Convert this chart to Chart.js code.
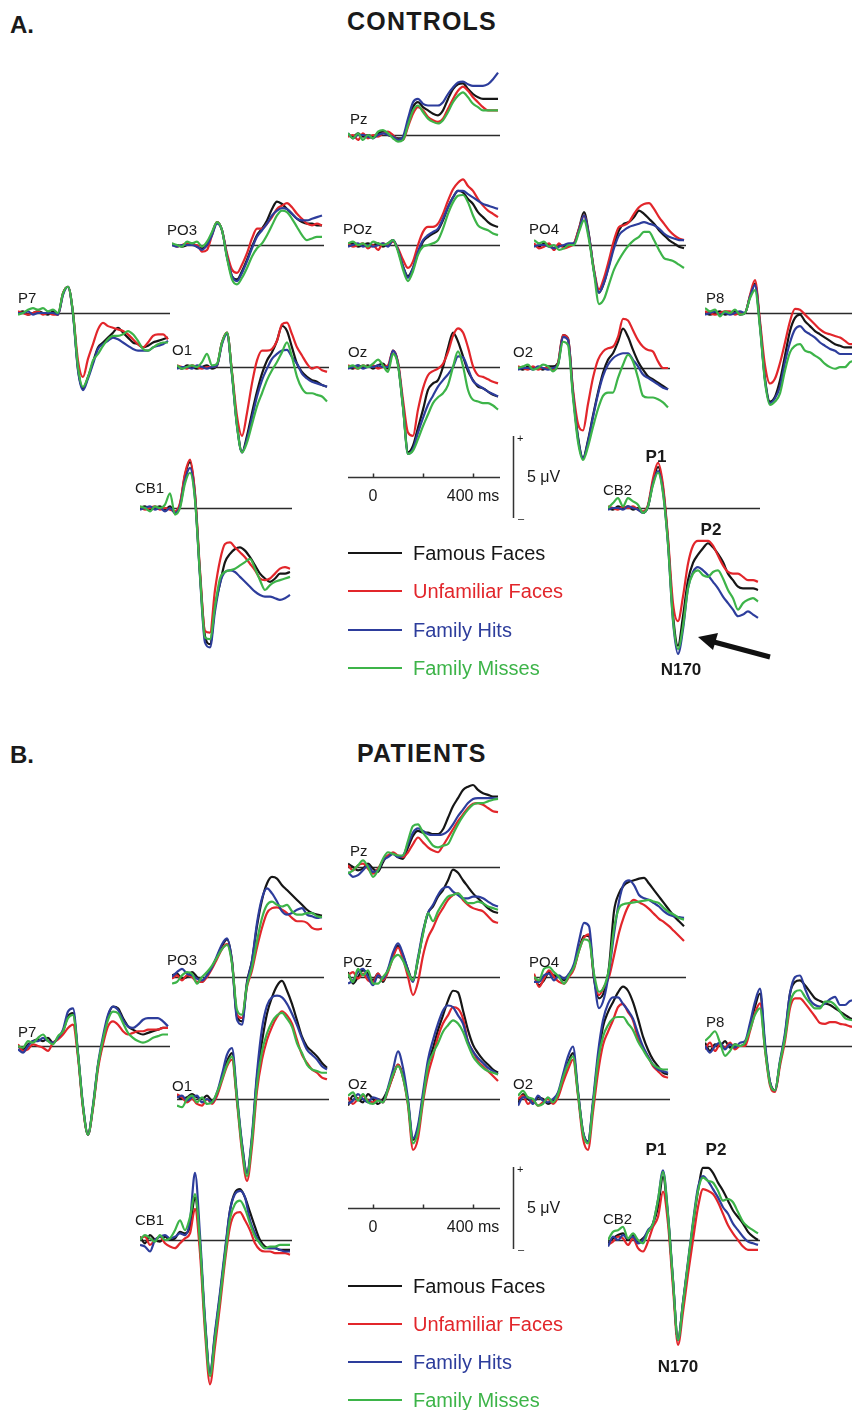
<!DOCTYPE html>
<html>
<head>
<meta charset="utf-8">
<title>ERP waveforms - controls and patients</title>
<script src="https://cdn.jsdelivr.net/npm/chart.js"></script>
<style>
  html, body { margin: 0; padding: 0; background: #fff; }
  body { position: relative; width: 852px; height: 1410px; overflow: hidden;
         font-family: "Liberation Sans", Arial, Helvetica, sans-serif; color: #1a1a1a; }
  canvas { position: absolute; }
  .t { position: absolute; line-height: 1; white-space: nowrap; }
  .key { position: absolute; height: 0; width: 54px; }
</style>
</head>
<body>
<script>
// sample times in ms (stimulus onset at 0), one value every 20 ms
const T = [-100,-80,-60,-40,-20,0,20,40,60,80,100,120,140,160,180,200,220,240,260,280,300,320,340,360,380,400,420,440,460,480,500];

const CONDITIONS = ["Famous Faces", "Unfamiliar Faces", "Family Hits", "Family Misses"];
const COLORS = ["#161616", "#e2262b", "#2d3d9c", "#3db449"];

const SCALE_TICKS = [0, 200, 400];
const SCALE_LABELS = ["0", "", "400 ms"];
const BAR_UV = 5;

// amplitudes in µV, rows follow CONDITIONS
// A. controls
const ctlPz = [
  [0.0,-0.1,0.1,-0.1,0.0,-0.1,0.1,0.2,0.0,-0.1,-0.2,-0.2,0.8,1.7,2.0,1.7,1.5,1.3,1.2,1.5,2.2,2.8,3.1,3.15,2.8,2.5,2.3,2.2,2.2,2.2,2.2],
  [-0.1,0.0,-0.3,0.1,-0.2,0.0,-0.1,0.1,0.2,0.0,-0.3,-0.3,0.5,1.3,1.7,1.5,1.1,0.9,0.8,1.0,1.6,2.2,2.7,2.95,2.7,2.3,2.0,1.7,1.5,1.5,1.5],
  [0.1,-0.2,0.0,0.0,-0.1,-0.2,0.0,0.1,0.0,-0.1,-0.3,-0.1,1.0,2.0,2.2,1.9,1.8,1.8,1.8,2.0,2.5,2.9,3.2,3.25,3.1,3.0,3.0,3.0,3.1,3.4,3.8],
  [0.1,-0.2,0.1,-0.3,0.0,-0.2,0.2,0.3,0.1,-0.2,-0.4,-0.3,0.6,1.5,1.8,1.4,1.0,0.8,0.7,0.9,1.4,2.0,2.4,2.6,2.3,1.9,1.7,1.5,1.5,1.5,1.5]
];
const ctlPO3 = [
  [0,0,-0.1,0,0.1,-0.1,-0.2,0,0.7,1.4,0.9,-0.7,-1.9,-2.1,-1.6,-0.9,-0.1,0.6,1.0,1.5,2.2,2.65,2.5,2.2,1.9,1.6,1.4,1.3,1.3,1.2,1.2],
  [0.1,-0.1,0,0.1,0,0,-0.4,-0.3,0.6,1.4,0.9,-0.5,-1.5,-1.7,-1.2,-0.5,0.4,1.0,1.0,1.3,1.7,2.2,2.4,2.55,2.3,1.9,1.6,1.3,1.2,1.3,1.2],
  [0,-0.1,0,0,0,-0.1,-0.3,0,0.6,1.3,0.9,-0.7,-1.9,-2.2,-1.7,-1.0,-0.2,0.5,0.9,1.3,1.8,2.1,2.25,2.2,1.9,1.6,1.5,1.5,1.6,1.7,1.8],
  [0.1,0,-0.1,0.2,0.1,0.2,-0.1,0.2,0.8,1.4,0.9,-0.8,-2.1,-2.4,-2.0,-1.4,-0.7,-0.2,0.1,0.6,1.2,1.8,2.1,2.0,1.6,1.1,0.6,0.3,0.4,0.5,0.5]
];
const ctlPOz = [
  [0.0,0.1,-0.1,0.0,0.1,0.0,0.1,-0.1,0.1,0.3,-0.3,-1.3,-1.9,-1.4,-0.5,0.2,0.5,0.7,0.9,1.5,2.3,2.9,3.3,3.2,2.8,2.5,2.0,1.7,1.4,1.2,1.1],
  [0.1,-0.1,0.0,0.1,-0.2,0.0,-0.3,0.1,0.0,0.2,-0.2,-0.9,-1.4,-1.0,0.0,0.8,1.1,1.1,1.3,1.9,2.7,3.4,3.8,4.0,3.6,3.3,2.8,2.4,2.1,1.9,1.7],
  [-0.1,0.0,0.1,-0.1,0.0,-0.1,0.0,0.1,-0.1,0.3,-0.3,-1.3,-2.0,-1.4,-0.4,0.3,0.6,0.8,1.0,1.6,2.3,2.9,3.3,3.3,3.1,2.9,2.7,2.5,2.4,2.3,2.2],
  [0.1,0.2,0.0,0.1,-0.1,0.2,0.1,0.0,0.1,0.3,-0.4,-1.5,-2.2,-1.6,-0.6,-0.1,0.0,0.1,0.3,1.0,1.9,2.6,3.0,3.05,2.6,1.8,1.2,1.0,0.9,0.7,0.6]
];
const ctlPO4 = [
  [0.0,-0.1,0.1,0.0,-0.2,0.0,-0.1,0.0,0.1,1.0,2.0,0.6,-1.6,-2.9,-2.3,-1.2,0.0,0.9,1.3,1.4,1.7,2.1,1.9,1.6,1.3,0.9,0.6,0.3,0.1,-0.1,-0.2],
  [0.1,-0.2,-0.1,0.1,-0.3,0.1,-0.2,-0.1,0.1,1.0,1.8,0.5,-1.5,-2.7,-2.0,-0.9,0.3,1.1,1.2,1.4,1.9,2.3,2.5,2.55,2.2,1.7,1.3,0.9,0.6,0.4,0.3],
  [-0.1,0.0,0.0,-0.1,-0.2,-0.1,0.0,0.1,0.1,0.9,1.8,0.5,-1.6,-2.9,-2.3,-1.3,-0.2,0.6,0.9,1.1,1.2,1.3,1.4,1.3,1.2,1.0,0.7,0.5,0.4,0.3,0.3],
  [0.3,0.1,0.2,-0.1,0.0,-0.3,-0.2,0.0,0.0,0.8,1.5,0.3,-1.7,-3.6,-3.3,-2.4,-1.5,-0.9,-0.4,0.0,0.3,0.5,0.8,0.8,0.3,-0.3,-0.8,-0.9,-1.0,-1.2,-1.4]
];
const ctlP7 = [
  [0.0,0.1,-0.1,0.0,0.1,0.0,-0.1,0.1,-0.1,1.2,1.6,0.0,-3.4,-4.6,-3.9,-3.0,-2.1,-1.8,-1.5,-1.2,-0.9,-1.2,-1.5,-1.8,-1.9,-2.1,-2.0,-1.8,-1.7,-1.6,-1.5],
  [0.1,0.0,-0.1,0.0,0.1,-0.1,0.0,-0.1,-0.1,1.2,1.6,0.0,-2.9,-3.9,-2.8,-1.9,-1.0,-0.6,-0.8,-0.9,-1.0,-1.1,-1.3,-1.6,-1.9,-2.1,-1.8,-1.4,-1.3,-1.3,-1.6],
  [0.0,0.0,0.1,-0.1,0.0,0.0,0.0,0.0,-0.1,1.1,1.6,-0.1,-3.5,-4.7,-4.0,-3.1,-2.2,-1.9,-1.7,-1.5,-1.6,-1.8,-2.0,-2.2,-2.3,-2.3,-2.3,-2.1,-2.0,-1.9,-1.7],
  [-0.1,0.0,0.2,0.3,0.2,0.3,0.1,0.2,0.0,1.2,1.6,0.0,-3.3,-4.5,-3.9,-2.9,-2.5,-2.0,-1.6,-1.4,-1.4,-1.3,-1.1,-1.3,-1.7,-2.2,-2.3,-2.1,-1.9,-1.8,-1.8]
];
const ctlO1 = [
  [0.0,-0.1,0.1,0.0,-0.1,0.0,0.1,-0.1,0.1,1.5,2.1,-0.4,-3.5,-5.2,-4.2,-2.8,-1.5,-0.4,0.4,0.9,1.6,2.5,2.2,1.2,0.2,-0.3,-0.6,-0.8,-0.9,-1.1,-1.2],
  [0.1,0.0,-0.1,0.1,0.0,-0.1,0.0,0.0,0.1,1.5,2.1,-0.3,-3.0,-4.2,-2.8,-1.0,0.4,1.0,1.0,1.1,1.6,2.6,2.7,2.0,1.2,0.7,0.2,-0.1,0.0,-0.2,-0.3],
  [-0.1,0.0,0.0,-0.1,0.1,0.0,-0.1,0.0,0.1,1.4,2.0,-0.5,-3.6,-5.2,-4.4,-3.1,-1.8,-0.8,-0.1,0.5,0.8,1.0,1.05,0.6,0.2,-0.4,-0.7,-0.9,-1.0,-1.1,-1.2],
  [0.1,-0.1,0.0,0.1,0.0,0.3,0.8,0.1,0.2,1.5,2.1,-0.4,-3.6,-5.2,-4.6,-3.5,-2.4,-1.6,-0.8,-0.2,0.3,0.9,1.5,0.6,-0.6,-1.3,-1.6,-1.6,-1.7,-1.8,-2.1]
];
const ctlOz = [
  [0.0,-0.1,0.1,0.0,0.1,-0.1,0.1,0.2,-0.1,1.0,0.2,-2.4,-5.2,-4.8,-3.7,-2.6,-1.4,-1.0,-0.8,0.0,1.15,2.1,1.55,0.65,-0.25,-0.8,-1.2,-1.3,-1.5,-1.7,-1.8],
  [0.1,0.0,-0.1,0.1,0.0,0.1,-0.1,0.0,0.1,1.0,0.3,-2.0,-4.0,-4.2,-2.6,-1.3,-0.5,-0.25,-0.1,0.2,0.9,1.9,2.35,2.1,1.2,0.05,-0.5,-0.6,-0.75,-0.9,-1.0],
  [-0.1,0.0,0.1,-0.1,0.0,0.0,0.1,0.0,0.0,1.0,0.2,-2.4,-5.3,-5.0,-4.0,-3.1,-2.3,-1.75,-1.2,-0.8,-0.45,0.0,0.65,0.6,-0.1,-0.85,-1.1,-1.3,-1.5,-1.65,-1.8],
  [0.0,0.1,-0.1,0.1,0.0,0.2,0.45,0.1,-0.3,0.8,0.1,-2.5,-5.3,-5.1,-4.4,-3.6,-2.9,-2.2,-1.85,-1.6,-1.1,0.0,0.95,0.05,-1.4,-2.0,-2.1,-2.2,-2.2,-2.35,-2.6]
];
const ctlO2 = [
  [0.0,-0.1,0.1,0.0,0.0,-0.1,0.1,0.1,0.3,2.0,1.8,-1.5,-4.2,-5.5,-4.4,-2.9,-1.5,-0.3,0.5,0.9,1.6,2.4,1.9,1.1,0.4,-0.1,-0.5,-0.7,-0.9,-1.1,-1.3],
  [0.1,0.0,-0.1,0.1,-0.1,0.0,0.0,-0.1,0.3,2.0,1.8,-1.3,-3.4,-3.8,-2.2,-0.6,0.5,1.0,1.2,1.3,1.9,3.0,2.9,2.3,1.7,1.3,1.1,1.0,0.4,0.0,0.0],
  [-0.1,0.0,0.0,-0.1,0.1,0.0,-0.1,0.0,0.2,1.9,1.7,-1.6,-4.3,-5.5,-4.5,-3.0,-1.6,-0.5,0.2,0.6,0.8,0.9,0.9,0.5,0.1,-0.4,-0.6,-0.8,-1.0,-1.2,-1.3],
  [0.0,0.1,0.2,-0.1,0.0,0.2,0.1,-0.2,0.2,1.6,1.4,-1.8,-4.5,-5.6,-4.8,-3.6,-2.5,-1.7,-1.5,-1.5,-0.6,0.2,0.8,0.4,-0.6,-1.7,-1.8,-1.8,-1.9,-2.1,-2.4]
];
const ctlP8 = [
  [0.0,-0.1,0.0,0.1,-0.1,0.0,0.1,-0.1,0.0,1.0,1.8,-0.7,-4.0,-5.4,-5.1,-4.1,-2.6,-1.1,-0.3,-0.1,-0.5,-0.8,-1.1,-1.3,-1.5,-1.7,-1.9,-2.0,-2.1,-2.1,-2.1],
  [0.1,0.0,-0.1,0.0,0.1,0.1,-0.1,0.0,0.0,1.1,2.0,-0.5,-3.2,-4.3,-4.0,-3.05,-1.8,-0.5,0.25,0.2,-0.1,-0.4,-0.7,-1.0,-1.2,-1.3,-1.4,-1.5,-1.7,-1.9,-1.9],
  [-0.1,0.0,0.1,-0.1,0.0,-0.1,0.0,0.1,0.0,1.0,1.7,-0.8,-4.1,-5.5,-5.2,-4.5,-3.0,-1.8,-1.0,-0.8,-1.1,-1.3,-1.5,-1.8,-2.0,-2.2,-2.3,-2.5,-2.5,-2.5,-2.5],
  [0.3,0.1,0.2,-0.2,0.1,0.0,0.2,-0.1,0.0,0.9,1.4,-0.9,-4.2,-5.6,-5.4,-4.9,-3.5,-2.4,-2.0,-1.9,-2.3,-2.4,-2.6,-2.8,-3.1,-3.3,-3.4,-3.3,-3.3,-3.0,-2.9]
];
const ctlCB1 = [
  [0.0,0.1,-0.1,0.0,0.1,-0.1,0.1,-0.3,0.2,2.0,2.8,0.8,-4.0,-7.8,-8.3,-6.0,-4.6,-3.3,-2.8,-2.5,-2.4,-2.6,-3.0,-3.5,-4.0,-4.3,-4.5,-4.3,-4.0,-4.0,-3.9],
  [0.1,-0.1,0.0,0.1,-0.1,0.0,-0.1,-0.2,0.3,2.1,2.95,0.9,-3.8,-7.5,-7.6,-5.0,-3.2,-2.2,-2.1,-2.4,-2.7,-3.0,-3.4,-3.8,-4.3,-4.4,-4.3,-4.0,-3.7,-3.6,-3.7],
  [-0.1,0.0,0.1,-0.1,0.0,-0.2,0.0,-0.3,0.1,1.7,2.45,0.6,-4.2,-8.2,-8.5,-6.3,-4.6,-3.9,-3.8,-3.9,-4.2,-4.5,-4.8,-5.1,-5.3,-5.4,-5.4,-5.5,-5.6,-5.5,-5.3],
  [0.1,0.0,-0.2,0.1,0.0,0.2,0.9,-0.4,0.0,1.5,2.15,0.5,-4.1,-7.9,-8.0,-6.0,-4.3,-3.9,-3.8,-3.7,-3.5,-3.3,-3.1,-3.7,-4.4,-5.0,-4.7,-4.5,-4.4,-4.3,-4.2]
];
const ctlCB2 = [
  [0.0,-0.1,0.1,0.0,0.1,-0.1,0.0,-0.3,0.1,1.6,2.5,1.2,-2.0,-6.5,-8.4,-6.6,-4.4,-3.35,-2.85,-2.45,-2.15,-2.4,-2.8,-3.3,-4.0,-4.4,-4.8,-4.9,-4.9,-4.9,-5.0],
  [0.1,0.0,-0.1,0.1,0.0,0.1,-0.1,-0.2,0.2,1.8,2.75,1.4,-1.8,-5.8,-6.9,-5.4,-3.4,-2.3,-2.0,-2.0,-2.0,-2.3,-2.9,-3.5,-3.9,-4.0,-4.0,-4.2,-4.4,-4.4,-4.5],
  [-0.1,0.0,0.0,-0.1,0.1,0.0,-0.1,-0.3,0.1,1.5,2.25,1.0,-2.2,-6.9,-8.9,-7.4,-4.9,-3.9,-3.6,-3.8,-4.1,-4.5,-4.9,-5.4,-5.8,-6.2,-6.6,-6.5,-6.3,-6.5,-6.7],
  [0.0,0.3,0.6,0.1,0.6,0.4,0.2,-0.3,0.1,1.4,2.15,0.9,-2.2,-6.8,-8.6,-7.2,-4.9,-4.0,-3.8,-4.1,-4.2,-3.9,-3.8,-4.3,-5.0,-5.5,-6.2,-5.8,-5.6,-5.5,-5.7]
];

// B. patients
const patPz = [
  [0.2,0.0,-0.2,-0.1,0.2,-0.1,-0.3,0.3,0.7,0.8,0.6,0.5,1.2,1.9,2.2,2.1,2.1,2.0,2.0,2.3,3.0,3.7,4.2,4.7,4.9,5.0,4.7,4.5,4.4,4.3,4.3],
  [0.1,-0.2,0.1,0.2,-0.1,-0.4,-0.1,0.4,0.7,0.9,0.7,0.6,0.9,1.4,1.8,1.5,1.2,1.0,0.9,1.3,1.8,2.3,2.8,3.2,3.6,3.85,3.9,3.8,3.6,3.4,3.35],
  [-0.3,-0.6,-0.5,-0.2,0.1,-0.3,-0.2,0.4,0.6,0.8,0.6,0.7,1.4,2.1,2.35,2.2,2.0,1.95,1.95,2.0,2.2,2.6,3.1,3.5,3.9,4.15,4.2,4.2,4.2,4.2,4.15],
  [-0.4,-0.2,0.1,0.4,0.0,-0.6,-0.2,0.5,0.9,0.8,0.7,0.7,1.6,2.5,2.6,2.1,1.7,1.3,1.2,1.3,1.4,2.0,2.6,3.1,3.5,3.8,3.9,3.9,4.0,4.1,4.15]
];
const patPO3 = [
  [0.1,0.2,-0.1,0.0,0.3,0.0,-0.3,0.1,0.6,1.2,1.9,2.3,1.0,-2.4,-2.7,-0.3,1.0,3.1,4.7,5.7,6.1,6.0,5.6,5.3,5.0,4.7,4.4,4.1,3.9,3.8,3.75],
  [-0.1,0.1,-0.2,0.1,0.0,-0.3,-0.3,0.0,0.5,1.1,1.7,2.0,0.9,-2.3,-2.5,-0.6,0.4,1.8,3.0,3.9,4.2,4.25,4.1,3.9,3.6,3.4,3.4,3.3,3.0,2.9,2.95],
  [0.0,0.3,0.5,0.2,0.1,-0.1,-0.2,0.1,0.6,1.3,2.0,2.35,0.9,-2.6,-2.9,-0.4,1.0,3.3,4.8,5.4,5.1,4.6,4.0,3.8,3.9,4.1,4.2,3.8,3.7,3.6,3.65],
  [-0.4,-0.3,0.1,0.3,0.2,-0.4,0.0,0.3,0.7,1.2,1.7,1.95,0.8,-2.0,-2.3,-0.5,0.6,2.2,3.6,4.4,4.6,4.4,4.3,4.4,4.0,3.8,3.8,3.9,3.9,3.7,3.65]
];
const patPOz = [
  [0.3,-0.4,0.0,0.4,0.2,-0.2,0.2,-0.3,0.4,1.3,1.9,1.3,0.45,-0.25,1.05,2.7,3.9,4.3,4.9,5.3,5.9,6.55,6.35,5.9,5.5,5.1,4.8,4.5,4.2,4.0,3.9],
  [0.1,0.3,-0.1,0.2,-0.2,-0.3,0.2,-0.2,0.3,1.2,1.8,1.1,0.0,-1.1,-0.3,1.3,2.4,3.0,3.7,4.2,4.7,5.0,5.1,4.7,4.4,4.2,4.1,4.0,3.7,3.4,3.3],
  [-0.4,-0.2,0.3,0.5,0.0,-0.5,0.1,-0.1,0.5,1.5,2.05,1.4,0.4,-0.3,1.2,2.8,3.9,4.4,5.0,5.4,5.5,5.2,5.0,4.8,4.8,4.9,4.9,4.8,4.6,4.4,4.3],
  [0.2,-0.3,0.5,0.1,0.4,-0.4,-0.4,0.0,0.4,1.1,1.35,1.0,0.3,-0.2,1.1,2.6,3.9,3.4,4.0,4.5,4.9,5.0,5.1,4.8,4.5,4.5,4.6,4.5,4.3,4.2,4.1]
];
const patPO4 = [
  [0.1,-0.5,-0.2,0.3,0.1,0.0,-0.2,0.1,0.6,1.7,2.5,2.5,-0.1,-1.3,-0.9,0.6,4.0,5.1,5.6,5.8,5.9,6.0,6.05,5.7,5.3,4.9,4.5,4.1,3.7,3.4,3.1],
  [0.2,-0.6,-0.1,0.4,0.0,-0.3,-0.4,0.0,0.5,1.6,2.4,2.6,0.0,-1.1,-0.6,0.0,1.3,2.7,3.7,4.4,4.7,4.55,4.4,4.15,3.85,3.55,3.35,3.1,2.8,2.5,2.2],
  [-0.3,-0.3,0.1,0.2,-0.2,0.1,-0.1,0.2,0.8,2.2,3.3,3.1,0.0,-1.9,-1.3,0.3,2.6,4.6,5.7,5.9,5.6,5.0,4.8,4.7,4.5,4.3,4.0,3.8,3.7,3.65,3.6],
  [0.0,-0.2,0.5,0.6,0.3,0.0,-0.4,0.1,0.6,1.6,2.3,2.2,0.2,-0.9,-0.6,0.5,2.95,4.2,4.45,4.5,4.55,4.6,4.65,4.7,4.6,4.5,4.2,3.95,3.8,3.6,3.5]
];
const patP7 = [
  [0.0,-0.2,0.1,0.3,0.4,0.3,0.5,0.2,0.5,0.9,1.8,2.0,-0.5,-3.7,-5.4,-3.7,-1.2,0.3,1.8,2.4,2.3,1.7,1.2,1.0,0.8,0.7,0.8,0.9,1.0,1.1,1.1],
  [0.1,-0.3,-0.2,0.1,0.0,-0.1,-0.3,0.2,0.4,0.7,1.1,1.3,-0.7,-3.8,-5.4,-3.8,-1.4,0.1,1.2,1.5,1.3,0.9,0.7,0.8,0.9,0.9,1.0,1.0,1.0,1.1,1.1],
  [-0.2,-0.4,0.0,0.3,0.3,0.5,0.3,0.2,0.5,1.0,2.1,2.3,-0.4,-3.6,-5.4,-3.6,-1.1,0.6,1.9,2.4,2.2,1.6,1.2,1.1,1.3,1.6,1.7,1.7,1.7,1.5,1.2],
  [0.0,-0.1,0.3,0.2,0.5,0.7,0.3,0.1,0.6,0.9,1.7,1.9,-0.5,-3.7,-5.4,-3.7,-1.2,0.4,1.6,2.1,2.0,1.4,0.8,0.5,0.3,0.2,0.3,0.5,0.6,0.7,0.7]
];
const patO1 = [
  [0.2,0.0,0.1,0.3,0.1,0.0,0.2,-0.1,0.3,1.3,2.3,2.8,0.0,-2.8,-4.5,-2.4,1.3,3.5,5.2,6.2,6.9,7.2,6.6,5.8,4.8,3.8,3.2,2.9,2.6,2.2,1.9],
  [0.3,0.1,-0.2,0.0,-0.3,-0.4,0.0,-0.3,0.2,1.1,2.0,2.4,-0.2,-3.2,-5.0,-2.9,0.5,2.4,3.6,4.4,5.0,5.35,5.1,4.6,3.6,2.7,2.2,1.8,1.6,1.3,1.2],
  [0.1,0.2,-0.1,0.1,0.2,-0.2,0.0,-0.2,0.4,1.5,2.7,3.1,0.2,-2.7,-4.5,-2.2,1.6,4.3,5.7,6.2,6.3,6.2,5.8,5.2,4.5,3.7,3.0,2.7,2.4,2.0,1.8],
  [-0.4,-0.5,0.0,0.2,-0.2,0.1,-0.3,-0.2,0.4,1.2,2.1,2.6,0.0,-3.0,-4.7,-2.5,0.9,2.9,4.0,4.7,5.1,5.25,4.9,4.4,3.4,2.8,2.1,1.8,1.7,1.6,1.6]
];
const patOz = [
  [-0.4,0.2,0.0,-0.2,0.3,0.0,-0.3,0.0,0.6,1.4,2.1,1.4,-0.2,-2.5,-1.8,0.1,2.1,3.1,4.2,5.1,6.0,6.6,6.5,5.4,4.2,3.3,2.8,2.4,2.1,1.8,1.6],
  [0.1,-0.3,0.0,0.2,-0.1,-0.2,0.0,-0.2,0.5,1.4,2.1,1.3,-0.4,-3.1,-2.4,-0.2,1.5,2.6,3.8,4.6,5.1,5.6,5.5,4.9,3.5,2.9,2.3,2.0,1.7,1.4,1.1],
  [-0.3,-0.1,0.3,0.0,-0.2,0.1,0.0,-0.2,0.7,1.8,2.9,1.9,0.0,-2.4,-1.6,0.4,2.4,3.6,4.6,5.4,5.7,5.6,5.1,4.6,3.5,2.9,2.5,2.2,1.9,1.7,1.5],
  [0.2,0.4,-0.1,0.3,-0.2,-0.3,-0.1,-0.2,0.6,1.5,2.0,1.3,-0.3,-2.7,-2.0,0.0,2.0,2.8,3.4,4.1,4.5,4.8,4.6,4.1,3.3,2.6,2.2,1.9,1.7,1.6,1.5]
];
const patO2 = [
  [-0.3,0.3,0.0,-0.2,0.1,0.0,-0.3,-0.1,0.2,1.2,2.2,2.8,0.4,-2.0,-2.6,-0.3,2.4,4.4,5.3,5.9,6.5,6.85,6.6,5.9,4.9,3.8,3.0,2.4,2.0,1.6,1.5],
  [0.0,0.2,-0.3,-0.1,-0.4,-0.2,0.0,-0.3,0.1,1.0,1.8,2.4,0.2,-2.4,-3.1,-0.8,1.6,3.3,4.1,4.8,5.6,5.8,5.3,4.8,3.7,3.1,2.6,2.0,1.7,1.4,1.3],
  [-0.4,0.1,0.1,-0.3,0.2,-0.1,-0.2,0.0,0.4,1.5,2.6,3.2,0.5,-2.0,-2.6,-0.1,2.8,4.8,5.8,6.2,6.2,5.8,5.4,4.9,4.0,3.2,2.6,2.1,1.8,1.7,1.6],
  [0.2,0.5,0.1,0.0,-0.4,-0.3,0.1,-0.2,0.3,1.3,2.1,2.6,0.3,-2.1,-2.7,-0.4,2.3,3.8,4.5,4.9,5.0,5.0,4.6,4.2,3.5,3.0,2.5,2.1,1.9,1.8,1.8]
];
const patP8 = [
  [0.2,-0.3,0.1,0.0,0.3,-0.1,0.1,0.0,0.1,1.2,2.4,3.2,0.0,-2.2,-2.7,-1.0,0.6,3.2,3.9,4.0,3.7,3.3,2.9,2.75,2.6,2.5,2.3,2.1,1.9,1.7,1.6],
  [-0.2,0.2,-0.3,0.1,-0.1,0.2,-0.2,0.0,0.0,0.9,2.0,2.6,-0.2,-2.4,-2.8,-1.2,0.3,2.3,2.9,2.9,2.6,2.2,1.8,1.4,1.35,1.45,1.45,1.35,1.3,1.2,1.15],
  [0.0,-0.4,0.0,0.2,-0.2,0.1,-0.1,0.2,0.3,1.4,2.7,3.5,0.2,-2.2,-2.7,-0.9,0.8,3.2,4.2,4.3,3.5,2.8,2.5,2.4,2.6,2.85,3.0,2.5,2.5,2.75,2.8],
  [0.3,0.6,0.9,0.2,-0.6,-0.3,0.1,0.0,0.2,1.0,1.9,2.3,-0.2,-2.3,-2.7,-1.0,0.5,2.6,3.3,3.4,3.0,2.6,2.3,2.3,2.7,2.7,2.5,2.1,1.7,1.6,1.55]
];
const patCB1 = [
  [0.2,-0.2,0.3,0.0,-0.1,0.2,0.0,0.1,0.5,0.4,0.8,2.6,-0.3,-5.0,-8.1,-5.8,-3.4,-0.8,1.8,2.9,3.1,2.6,1.7,0.8,0.0,-0.4,-0.5,-0.5,-0.6,-0.6,-0.6],
  [0.1,0.2,-0.3,0.0,0.2,-0.2,-0.4,-0.5,-0.2,0.1,0.4,1.9,-0.8,-5.6,-8.8,-6.5,-4.0,-1.3,0.8,1.6,1.7,1.2,0.6,-0.2,-0.6,-0.7,-0.7,-0.8,-0.8,-0.8,-0.9],
  [-0.3,-0.4,-0.7,0.0,0.2,0.3,0.1,0.2,0.4,0.3,1.2,4.1,0.3,-4.8,-8.1,-5.6,-3.2,-0.6,1.8,2.8,3.0,2.6,1.2,0.4,-0.2,-0.5,-0.5,-0.5,-0.6,-0.7,-0.7],
  [0.0,0.3,0.1,-0.1,0.3,0.0,0.1,0.6,1.2,0.6,1.4,2.8,-0.2,-5.2,-8.3,-6.0,-3.6,-1.0,1.3,2.2,2.4,1.9,1.0,0.2,-0.2,-0.5,-0.4,-0.4,-0.3,-0.3,-0.3]
];
const patCB2 = [
  [-0.2,0.1,0.3,0.4,0.0,0.3,-0.1,0.1,0.5,1.0,2.0,3.85,1.4,-2.5,-6.1,-3.8,-1.5,0.9,3.0,4.4,4.4,4.1,3.5,3.0,2.4,1.8,1.4,1.0,0.5,0.2,0.0],
  [-0.3,-0.1,0.2,0.1,-0.3,0.1,-0.5,-0.7,-0.1,0.8,1.4,2.95,1.0,-2.9,-6.4,-4.4,-2.1,0.0,2.0,3.1,3.0,2.8,2.3,1.6,0.9,0.4,0.0,-0.4,-0.6,-0.6,-0.6],
  [-0.4,0.2,0.0,0.3,0.1,0.2,-0.2,0.0,0.6,1.0,2.45,4.25,1.6,-2.4,-6.1,-3.8,-1.3,1.1,3.2,3.9,3.6,3.1,2.6,2.0,1.6,1.0,0.6,0.2,-0.1,-0.2,-0.3],
  [0.0,0.5,0.6,0.8,0.1,0.4,0.0,-0.2,0.5,1.0,2.45,4.15,1.5,-2.5,-6.1,-3.9,-1.4,1.0,3.0,3.8,3.6,3.5,3.0,2.4,2.5,2.3,1.7,1.1,0.8,0.6,0.4]
];

// page geometry
const PX_PER_UV = 16.4;          // 5 µV bar is 82 px
const UP = 120, DOWN = 170, W = 152;
const X_MIN = -100, X_MAX = 508;

// [label, data, left, zero-line y, label x, label baseline]
const panelsA = [
  ["Pz",  ctlPz,  348, 135, 350, 124],
  ["PO3", ctlPO3, 172, 245, 167, 235],
  ["POz", ctlPOz, 348, 245, 343, 234],
  ["PO4", ctlPO4, 534, 245, 529, 234],
  ["P7",  ctlP7,   18, 313,  18, 303],
  ["P8",  ctlP8,  705, 313, 706, 303],
  ["O1",  ctlO1,  177, 367, 172, 355],
  ["Oz",  ctlOz,  348, 367, 348, 357],
  ["O2",  ctlO2,  518, 368, 513, 357],
  ["CB1", ctlCB1, 140, 508, 135, 493],
  ["CB2", ctlCB2, 608, 508, 603, 495]
];
const panelsB = [
  ["Pz",  patPz,  348, 867, 350, 856],
  ["PO3", patPO3, 172, 977, 167, 965],
  ["POz", patPOz, 348, 977, 343, 967],
  ["PO4", patPO4, 534, 977, 529, 967],
  ["P7",  patP7,   18, 1046, 18, 1037],
  ["P8",  patP8,  705, 1046, 706, 1027],
  ["O1",  patO1,  177, 1099, 172, 1091],
  ["Oz",  patOz,  348, 1099, 348, 1089],
  ["O2",  patO2,  518, 1099, 513, 1089],
  ["CB1", patCB1, 140, 1240, 135, 1225],
  ["CB2", patCB2, 608, 1240, 603, 1224]
];

function text(str, x, base, size, opt = {}) {
  const d = document.createElement("div");
  d.className = "t";
  d.textContent = str;
  d.style.left = x + "px";
  d.style.top = (base - 0.85 * size) + "px";
  d.style.fontSize = size + "px";
  if (opt.bold) d.style.fontWeight = "bold";
  if (opt.color) d.style.color = opt.color;
  if (opt.center) d.style.transform = "translateX(-50%)";
  if (opt.ls) d.style.letterSpacing = opt.ls + "px";
  document.body.appendChild(d);
  return d;
}

function addCanvas(left, top, w, h) {
  const c = document.createElement("canvas");
  c.width = w; c.height = h;
  c.style.left = left + "px"; c.style.top = top + "px";
  document.body.appendChild(c);
  return c;
}

// horizontal 0 µV line under the traces
const zeroLine = {
  id: "zeroLine",
  beforeDatasetsDraw(chart) {
    const { ctx, chartArea: a, scales: { y } } = chart;
    const y0 = Math.round(y.getPixelForValue(0)) + 0.5;
    ctx.save();
    ctx.strokeStyle = "#2b2b2b";
    ctx.lineWidth = 1.6;
    ctx.beginPath(); ctx.moveTo(a.left, y0); ctx.lineTo(a.right, y0); ctx.stroke();
    ctx.restore();
  }
};

function makePanel([name, rows, left, base, lx, ly]) {
  const c = addCanvas(left, base - UP, W, UP + DOWN);
  new Chart(c, {
    type: "line",
    data: {
      datasets: rows.map((vals, i) => ({
        label: CONDITIONS[i],
        data: vals.map((v, j) => ({ x: T[j], y: v })),
        borderColor: COLORS[i],
        borderWidth: 2.2,
        pointRadius: 0,
        fill: false,
        cubicInterpolationMode: "monotone",
        order: 3 - i
      }))
    },
    options: {
      responsive: false,
      animation: false,
      events: [],
      layout: { padding: 0 },
      plugins: { legend: { display: false }, tooltip: { enabled: false } },
      scales: {
        x: { type: "linear", min: X_MIN, max: X_MAX, display: false },
        y: { min: -DOWN / PX_PER_UV, max: UP / PX_PER_UV, display: false }
      }
    },
    plugins: [zeroLine]
  });
  text(name, lx, ly, 15);
}

// time axis + 5 µV bar, same scales as the panels
const scaleBar = {
  id: "scaleBar",
  afterDraw(chart) {
    const { ctx, chartArea: a, scales: { x, y } } = chart;
    const y0 = Math.round(y.getPixelForValue(0)) + 0.5;
    ctx.save();
    ctx.strokeStyle = "#333";
    ctx.lineWidth = 1.5;
    ctx.beginPath();
    ctx.moveTo(a.left, y0); ctx.lineTo(a.right, y0);
    SCALE_TICKS.forEach(t => {
      const px = Math.round(x.getPixelForValue(t)) + 0.5;
      ctx.moveTo(px, y0); ctx.lineTo(px, y0 - 4);
    });
    const bx = a.right + 13.5;
    ctx.moveTo(bx, y.getPixelForValue(BAR_UV / 2));
    ctx.lineTo(bx, y.getPixelForValue(-BAR_UV / 2));
    ctx.stroke();
    ctx.restore();
  }
};

function makeScale(axisY) {
  const left = 348;
  const c = addCanvas(left, axisY - 60, W + 70, 120);
  const ch = new Chart(c, {
    type: "line",
    data: { datasets: [] },
    options: {
      responsive: false,
      animation: false,
      events: [],
      layout: { padding: { left: 0, right: 70, top: 0, bottom: 0 } },
      plugins: { legend: { display: false }, tooltip: { enabled: false } },
      scales: {
        x: { type: "linear", min: X_MIN, max: X_MAX, display: false },
        y: { min: -60 / PX_PER_UV, max: 60 / PX_PER_UV, display: false }
      }
    },
    plugins: [scaleBar]
  });
  SCALE_TICKS.forEach((t, i) => {
    if (SCALE_LABELS[i]) text(SCALE_LABELS[i], left + ch.scales.x.getPixelForValue(t), axisY + 25, 16, { center: true });
  });
  const half = BAR_UV / 2 * PX_PER_UV;
  text("+", 517, axisY - half + 6, 11);
  text("\u2013", 518, axisY + half + 4, 11);
  text("5 \u03bcV", 527, axisY + 6, 16);
}

function makeLegend(firstY, step) {
  CONDITIONS.forEach((name, i) => {
    const y = firstY + i * step;
    const k = document.createElement("div");
    k.className = "key";
    k.style.left = "348px";
    k.style.top = (y - 1) + "px";
    k.style.borderTop = "2px solid " + COLORS[i];
    document.body.appendChild(k);
    text(name, 413, y + 7, 20, { color: COLORS[i] });
  });
}

// A. controls
text("A.", 10, 33, 24, { bold: true });
text("CONTROLS", 347, 30, 25, { bold: true, ls: 1.2 });
panelsA.forEach(makePanel);
makeScale(477);
makeLegend(553, 38.3);
text("P1", 656, 462, 17, { bold: true, center: true });
text("P2", 711, 535, 17, { bold: true, center: true });
text("N170", 681, 675, 17, { bold: true, center: true });

// B. patients
text("B.", 10, 763, 24, { bold: true });
text("PATIENTS", 357, 762, 25, { bold: true, ls: 1.2 });
panelsB.forEach(makePanel);
makeScale(1208);
makeLegend(1286, 38);
text("P1", 656, 1155, 17, { bold: true, center: true });
text("P2", 716, 1155, 17, { bold: true, center: true });
text("N170", 678, 1372, 17, { bold: true, center: true });

// arrow pointing at the controls' N170 at CB2
const svgNS = "http://www.w3.org/2000/svg";
const svg = document.createElementNS(svgNS, "svg");
svg.setAttribute("width", "852");
svg.setAttribute("height", "700");
svg.style.cssText = "position:absolute;left:0;top:0;pointer-events:none";
const shaft = document.createElementNS(svgNS, "line");
shaft.setAttribute("x1", "770"); shaft.setAttribute("y1", "657");
shaft.setAttribute("x2", "714"); shaft.setAttribute("y2", "642");
shaft.setAttribute("stroke", "#111"); shaft.setAttribute("stroke-width", "5");
const head = document.createElementNS(svgNS, "polygon");
head.setAttribute("points", "698,637 718,633 713,650");
head.setAttribute("fill", "#111");
svg.appendChild(shaft);
svg.appendChild(head);
document.body.appendChild(svg);
</script>
</body>
</html>
